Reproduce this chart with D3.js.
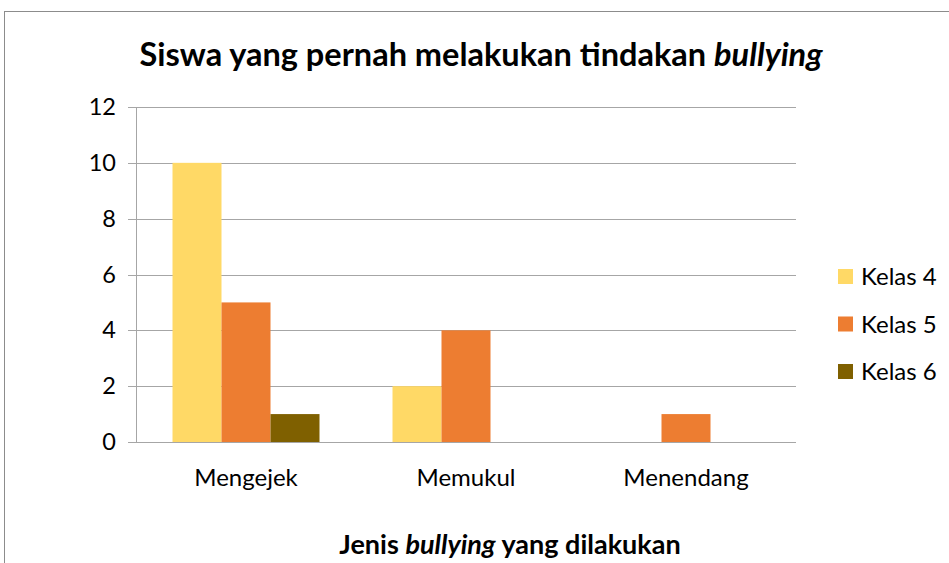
<!DOCTYPE html>
<html><head><meta charset="utf-8">
<script src="https://cdn.jsdelivr.net/npm/d3@7"></script>
<style>body{margin:0;background:#fff}svg{display:block}text{font-family:Lato,"Open Sans",sans-serif;fill:#000}</style>
</head><body>
<svg id="c" width="949" height="563"></svg>
<script>
const categories = ["Mengejek", "Memukul", "Menendang"];
const seriesNames = ["Kelas 4", "Kelas 5", "Kelas 6"];
const kelas4 = [10, 2, 0];
const kelas5 = [5, 4, 1];
const kelas6 = [1, 0, 0];
const yTicks = [0, 2, 4, 6, 8, 10, 12];
const colors = ["#FFD966", "#ED7D31", "#7F6000"];

const series = [kelas4, kelas5, kelas6];
const svg = d3.select("#c");
const L = 136, R = 796, T = 107, B = 442;

svg.append("rect").attr("x", 4.5).attr("y", 11.5).attr("width", 960).attr("height", 580)
  .attr("fill", "none").attr("stroke", "#8c8c8c").attr("stroke-width", 1);

const x0 = d3.scaleBand().domain(categories).range([L, R]).paddingInner(0).paddingOuter(0);
const x1 = d3.scaleBand().domain(seriesNames).range([0, x0.bandwidth()]).paddingInner(0).paddingOuter(0.745);
const y = d3.scaleLinear().domain([0, 12]).range([B, T]);

// gridlines
const yAxis = d3.axisLeft(y).tickValues(yTicks).tickSize(-(R - L)).tickPadding(20).tickFormat(d3.format("d"));
const ga = svg.append("g").attr("transform", `translate(${L},0)`).call(yAxis);
ga.select(".domain").remove();
ga.selectAll(".tick line").attr("stroke", "#a6a6a6").attr("x1", -8).attr("shape-rendering", "crispEdges");
ga.selectAll(".tick text").attr("font-size", 23.5).attr("font-family", "Lato").attr("fill", "#000");

// bars
const groups = svg.append("g").selectAll("g").data(categories).join("g")
  .attr("transform", d => `translate(${x0(d)},0)`);
groups.selectAll("rect").data((c, i) => series.map((s, j) => ({name: seriesNames[j], v: s[i], j})))
  .join("rect")
  .attr("x", d => x1(d.name)).attr("width", x1.bandwidth())
  .attr("y", d => y(d.v)).attr("height", d => B - y(d.v))
  .attr("fill", d => colors[d.j]);

// axes lines
svg.append("line").attr("x1", L + 0.5).attr("x2", L + 0.5).attr("y1", T).attr("y2", B).attr("stroke", "#a6a6a6");
svg.append("line").attr("x1", L - 8).attr("x2", R).attr("y1", B + 0.5).attr("y2", B + 0.5).attr("stroke", "#a6a6a6");

// category labels
const xAxis = d3.axisBottom(x0).tickSize(0).tickPadding(27);
const gx = svg.append("g").attr("transform", `translate(0,${B})`).call(xAxis);
gx.select(".domain").remove();
gx.selectAll(".tick text").attr("font-size", 24).attr("font-family", "Lato").attr("fill", "#000");

// title
const t = svg.append("text").attr("x", 481).attr("y", 66).attr("text-anchor", "middle")
  .attr("font-size", 32.5).attr("font-weight", "bold");
t.append("tspan").text("Siswa yang pernah melakukan tindakan ");
t.append("tspan").attr("font-style", "italic").text("bullying");

// x title
const xt = svg.append("text").attr("x", 510).attr("y", 554).attr("text-anchor", "middle")
  .attr("font-size", 27).attr("font-weight", "bold");
xt.append("tspan").text("Jenis ");
xt.append("tspan").attr("font-style", "italic").text("bullying");
xt.append("tspan").text(" yang dilakukan");

// legend
const lg = svg.append("g").selectAll("g").data(seriesNames).join("g")
  .attr("transform", (d, i) => `translate(838,${269 + i * 47.5})`);
lg.append("rect").attr("width", 15).attr("height", 15).attr("fill", (d, i) => colors[i]);
lg.append("text").attr("x", 23).attr("y", 16).attr("font-size", 24).text(d => d);
</script>
</body></html>
